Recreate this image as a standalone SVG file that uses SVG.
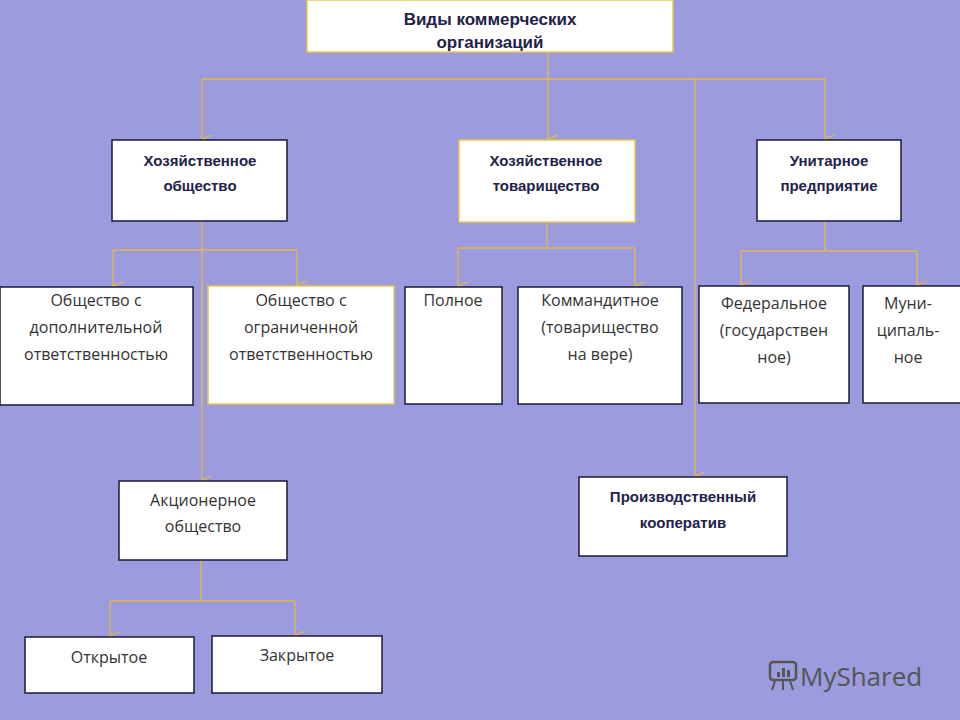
<svg xmlns="http://www.w3.org/2000/svg" width="960" height="720" viewBox="0 0 960 720">
<defs>
<marker id="a" viewBox="0 0 10 10" refX="5" refY="10" markerWidth="10" markerHeight="10" markerUnits="userSpaceOnUse" orient="auto-start-reverse">
<path d="M1,0 L5,10 L9,0" fill="none" stroke="#E3B84E" stroke-width="1.2"/>
</marker>
<style>
.b{fill:#fff;stroke:#1a1a3a;stroke-width:1.5}
.y{fill:#fff;stroke:#E8C84E;stroke-width:1.5}
.t{font-family:"Liberation Sans",Arial,sans-serif;font-size:16px;font-weight:bold;fill:#22224a;text-anchor:middle}
.r{font-family:"Open Sans","Liberation Sans",sans-serif;font-size:16px;fill:#333;text-anchor:middle}
.c{fill:none;stroke:#E3B84E;stroke-width:1.3}
</style>
</defs>
<rect width="960" height="720" fill="#9B9BDD"/>
<g id="connectors">
<path class="c" d="M202,79 H825"/>
<path class="c" d="M548,52 V139" marker-end="url(#a)"/>
<path class="c" d="M202,79 V139" marker-end="url(#a)"/>
<path class="c" d="M825,79 V139" marker-end="url(#a)"/>
<path class="c" d="M695,79 V476" marker-end="url(#a)"/>
<path class="c" d="M202,221 V480" marker-end="url(#a)"/>
<path class="c" d="M113,250 H297"/>
<path class="c" d="M113,250 V286" marker-end="url(#a)"/>
<path class="c" d="M297,250 V285" marker-end="url(#a)"/>
<path class="c" d="M547,222 V248 M458,248 H635"/>
<path class="c" d="M458,248 V286" marker-end="url(#a)"/>
<path class="c" d="M635,248 V286" marker-end="url(#a)"/>
<path class="c" d="M825,221 V251 M741,251 H917"/>
<path class="c" d="M741,251 V285" marker-end="url(#a)"/>
<path class="c" d="M917,251 V285" marker-end="url(#a)"/>
<path class="c" d="M201,560 V601 M110,601 H295"/>
<path class="c" d="M110,601 V636" marker-end="url(#a)"/>
<path class="c" d="M295,601 V635" marker-end="url(#a)"/>
</g>
<g id="root"><rect class="y" x="307" y="0" width="366" height="52"/><text class="t" x="490" y="25" style="font-size:17px">Виды коммерческих</text><text class="t" x="490" y="48" style="font-size:17px">организаций</text></g>
<g id="ho"><rect class="b" x="112" y="140" width="175" height="81"/><text class="t" x="200" y="166" style="font-size:15px">Хозяйственное</text><text class="t" x="200" y="191" style="font-size:15px">общество</text></g>
<g id="ht"><rect class="y" x="459" y="140" width="176" height="82"/><text class="t" x="546" y="166" style="font-size:15px">Хозяйственное</text><text class="t" x="546" y="191" style="font-size:15px">товарищество</text></g>
<g id="up"><rect class="b" x="757" y="140" width="144" height="81"/><text class="t" x="829" y="166" style="font-size:15px">Унитарное</text><text class="t" x="829" y="191" style="font-size:15px">предприятие</text></g>
<g id="odo"><rect class="b" x="0" y="287" width="193" height="118"/><text class="r" x="96" y="306">Общество с</text><text class="r" x="96" y="333">дополнительной</text><text class="r" x="96" y="360">ответственностью</text></g>
<g id="ooo"><rect class="y" x="208" y="286" width="186" height="118"/><text class="r" x="301" y="306">Общество с</text><text class="r" x="301" y="333">ограниченной</text><text class="r" x="301" y="360">ответственностью</text></g>
<g id="full"><rect class="b" x="405" y="287" width="97" height="117"/><text class="r" x="453" y="306">Полное</text></g>
<g id="komm"><rect class="b" x="518" y="287" width="164" height="117"/><text class="r" x="600" y="306">Коммандитное</text><text class="r" x="600" y="333">(товарищество</text><text class="r" x="600" y="360">на вере)</text></g>
<g id="fed"><rect class="b" x="699" y="286" width="150" height="117"/><text class="r" x="774" y="309">Федеральное</text><text class="r" x="774" y="336">(государствен</text><text class="r" x="774" y="363">ное)</text></g>
<g id="mun"><rect class="b" x="863" y="286" width="100" height="117"/><text class="r" x="908" y="309">Муни-</text><text class="r" x="908" y="336">ципаль-</text><text class="r" x="908" y="363">ное</text></g>
<g id="ao"><rect class="b" x="119" y="481" width="168" height="79"/><text class="r" x="203" y="506">Акционерное</text><text class="r" x="203" y="532">общество</text></g>
<g id="pk"><rect class="b" x="579" y="477" width="208" height="79"/><text class="t" x="683" y="502" style="font-size:15px">Производственный</text><text class="t" x="683" y="528" style="font-size:15px">кооператив</text></g>
<g id="open"><rect class="b" x="25" y="637" width="169" height="56"/><text class="r" x="109" y="663">Открытое</text></g>
<g id="closed"><rect class="b" x="212" y="636" width="170" height="57"/><text class="r" x="297" y="661">Закрытое</text></g>
<g id="logo" fill="#555"><rect x="770" y="662" width="26" height="18" rx="3" fill="none" stroke="#555" stroke-width="2.5"/><rect x="777" y="672" width="3" height="5"/><rect x="782" y="668" width="3" height="9"/><rect x="787" y="670" width="3" height="7"/><path d="M775,681 L772,690 M790,681 L793,690 M783,681 V690" stroke="#555" stroke-width="2"/>
<text x="800" y="686" style="font-family:'Open Sans','Liberation Sans',sans-serif;font-size:26px;fill:#555">MyShared</text></g>
</svg>
